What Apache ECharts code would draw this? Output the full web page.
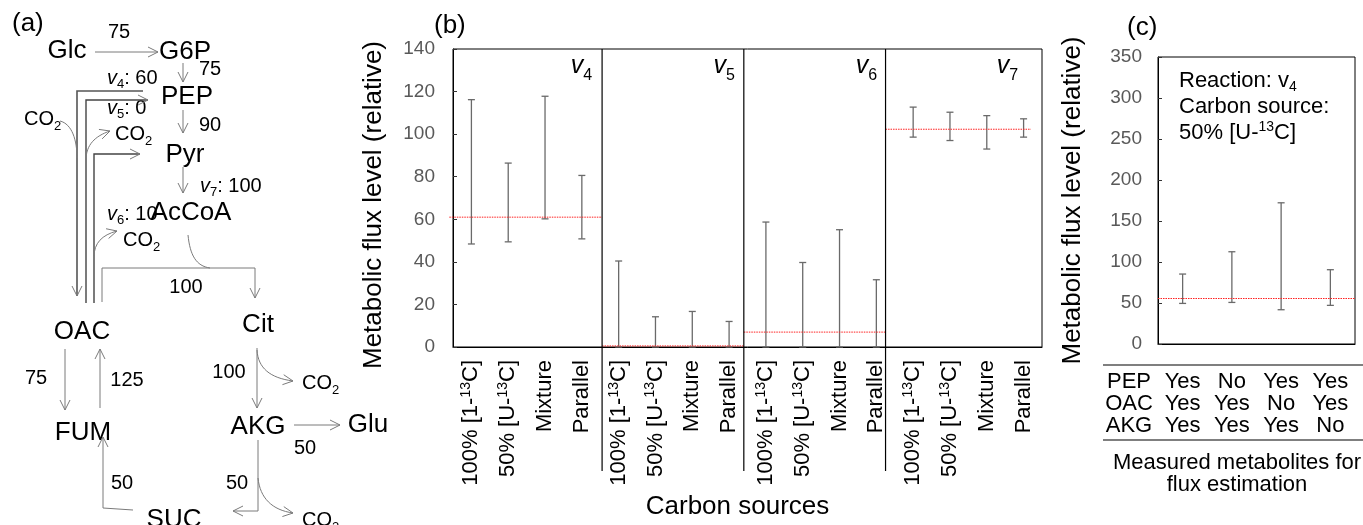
<!DOCTYPE html>
<html><head><meta charset="utf-8">
<script src="https://cdn.jsdelivr.net/npm/echarts@6/dist/echarts.min.js"></script>
<style>html,body{margin:0;padding:0;background:#fff}#c{width:1363px;height:525px}</style>
</head><body><div id="c"></div>
<script>
// ---------- DATA ----------
const sourceLabels = ['100% [1-13C]', '50% [U-13C]', 'Mixture', 'Parallel'];
const reactions = ['4', '5', '6', '7'];
const bLow  = [48.4, 49.4, 60.2, 50.8,  0, 0, 0, 0,  0, 0, 0, 0,  98.6, 97.0, 93.0, 98.6];
const bHigh = [116.2, 86.4, 117.8, 80.6,  40.4, 14.2, 16.7, 12.0,  58.7, 39.7, 55.1, 31.6,  112.7, 110.3, 108.7, 107.2];
const bTrue = [61, 0.5, 7, 102.3];
const bTicks = [0, 140, 20];
const cLow  = [49.5, 50.7, 41.8, 47.1];
const cHigh = [85.3, 112.5, 172.2, 90.6];
const cTrue = 55.6;
const cTicks = [0, 350, 50];
const cPEP = ['Yes', 'No', 'Yes', 'Yes'];
const cOAC = ['Yes', 'Yes', 'No', 'Yes'];
const cAKG = ['Yes', 'Yes', 'Yes', 'No'];
const cRowNames = ['PEP', 'OAC', 'AKG'];
const mapFluxV = ['60', '0', '10', '100'];          // v4..v7 in the map
const mapFlux = ['75', '75', '90', '100', '75', '125', '100', '50', '50', '50'];

// ---------- LAYOUT ----------
const FF = '"Liberation Sans", Arial, sans-serif';
const GR = '#7a7a7a';
const groupEdges = [-0.1, 4.05, 7.9, 11.75, 15.7];
const labelX = [3.78, 7.66, 11.52, 15.35];

const bCats = [];
reactions.forEach(() => sourceLabels.forEach(s => bCats.push(s)));
const cCols = cPEP.map((p, i) => [p, cOAC[i], cAKG[i]].join('\n'));

function errRender(params, api) {
  const x = api.value(0);
  const lo = api.coord([x, api.value(1)]), hi = api.coord([x, api.value(2)]);
  const w = 3.5, st = {stroke: '#6a6a6a', lineWidth: 1.3};
  return {type: 'group', children: [
    {type: 'line', shape: {x1: lo[0], y1: lo[1], x2: hi[0], y2: hi[1]}, style: st},
    {type: 'line', shape: {x1: lo[0] - w, y1: lo[1], x2: lo[0] + w, y2: lo[1]}, style: st},
    {type: 'line', shape: {x1: hi[0] - w, y1: hi[1], x2: hi[0] + w, y2: hi[1]}, style: st}
  ]};
}

// ---------- DIAGRAM (panel a) ----------
function seg(pts, col, lw) { return {type: 'polyline', silent: true, shape: {points: pts}, style: {stroke: col || GR, lineWidth: lw || 1, fill: 'none'}}; }
function head(tip, d) {
  const n = Math.hypot(d[0], d[1]), ux = d[0] / n, uy = d[1] / n, px = -uy, py = ux, L = 10, W = 5;
  return seg([[tip[0] - ux * L + px * W, tip[1] - uy * L + py * W], tip, [tip[0] - ux * L - px * W, tip[1] - uy * L - py * W]]);
}
function arrow(pts, col, lw) {
  const a = pts[pts.length - 2], b = pts[pts.length - 1];
  return [seg(pts, col, lw), head(b, [b[0] - a[0], b[1] - a[1]])];
}
function curve(x1, y1, c1x, c1y, c2x, c2y, x2, y2, withHead) {
  const out = [{type: 'bezierCurve', silent: true, shape: {x1, y1, cpx1: c1x, cpy1: c1y, cpx2: c2x, cpy2: c2y, x2, y2}, style: {stroke: GR, lineWidth: 1, fill: 'none'}}];
  if (withHead) out.push(head([x2, y2], [x2 - c2x, y2 - c2y]));
  return out;
}
const RICH = {
  i: {fontStyle: 'italic', fontSize: 20, fontFamily: FF, lineHeight: 26, fill: '#000', color: '#000'},
  s: {fontSize: 13, fontFamily: FF, lineHeight: 13, verticalAlign: 'bottom', fill: '#000', color: '#000'},
  sup: {fontSize: 14, fontFamily: FF, lineHeight: 14, verticalAlign: 'top', fill: '#000', color: '#000'}
};
function T(x, y, text, fs, align, lh) {
  const st = {text, fontSize: fs, fontFamily: FF, fill: '#000', align: align || 'center', verticalAlign: 'middle',
    textAlign: align || 'center', textVerticalAlign: 'middle', rich: RICH};
  if (lh) st.lineHeight = lh;
  return {type: 'text', x, y, silent: true, style: st};
}
const CO2 = 'CO{s|2}';
const diagram = [].concat(
  T(12, 24, '(a)', 26, 'left'),
  T(67, 51, 'Glc', 26), T(185, 52, 'G6P', 26), T(187, 97, 'PEP', 26), T(185, 155, 'Pyr', 26),
  T(191, 213, 'AcCoA', 26), T(82, 332, 'OAC', 26), T(258, 325, 'Cit', 26), T(83, 433, 'FUM', 26),
  T(258, 427, 'AKG', 26), T(368, 425, 'Glu', 26), T(174, 520, 'SUC', 26),
  T(119, 32, mapFlux[0], 20), T(210, 69, mapFlux[1], 20), T(210, 125, mapFlux[2], 20),
  T(186, 287, mapFlux[3], 20), T(36, 378, mapFlux[4], 20), T(127, 380, mapFlux[5], 20),
  T(229, 372, mapFlux[6], 20), T(305, 448, mapFlux[7], 20), T(122, 483, mapFlux[8], 20), T(237, 483, mapFlux[9], 20),
  T(107, 78, '{i|v}{s|4}: ' + mapFluxV[0], 20, 'left', 26),
  T(107, 108, '{i|v}{s|5}: ' + mapFluxV[1], 20, 'left', 26),
  T(107, 214, '{i|v}{s|6}: ' + mapFluxV[2], 20, 'left', 26),
  T(200, 186, '{i|v}{s|7}: ' + mapFluxV[3], 20, 'left', 26),
  T(24, 119, CO2, 20, 'left', 27), T(115, 134, CO2, 20, 'left', 27), T(123, 240, CO2, 20, 'left', 27),
  T(302, 383, CO2, 20, 'left', 27), T(302, 520, CO2, 20, 'left', 27),
  arrow([[95, 52], [158, 52]]),
  arrow([[183, 63], [183, 82]]),
  arrow([[143, 91], [77, 91], [77, 296]], '#555', 1.6),
  arrow([[86, 303], [86, 100], [148, 100]], '#444', 1.4),
  arrow([[94, 303], [94, 154], [140, 154]], '#444', 1.4),
  arrow([[102, 302], [102, 268], [255, 268], [255, 298]]),
  curve(188, 235, 190, 255, 196, 266, 210, 268, false),
  curve(60, 121, 72, 124, 77, 140, 77, 158, false),
  curve(86, 160, 86, 145, 95, 136, 110, 131, true),
  curve(94, 257, 94, 243, 102, 235, 117, 231, true),
  arrow([[183, 110], [183, 133]]),
  arrow([[183, 167], [183, 193]]),
  arrow([[65, 349], [65, 410]]),
  arrow([[100, 408], [100, 349]]),
  arrow([[257, 348], [257, 408]]),
  curve(257, 350, 258, 368, 270, 378, 293, 381, true),
  arrow([[294, 425], [340, 425]]),
  arrow([[258, 440], [258, 511], [233, 511]]),
  curve(258, 478, 260, 498, 272, 510, 293, 513, true),
  arrow([[133, 510], [103, 508], [103, 437]])
);

const extraGraphics = [
  T(434, 26, '(b)', 26, 'left'),
  T(1127, 28, '(c)', 26, 'left'),
  {type: 'text', x: 1179, y: 68, silent: true, style: {text: 'Reaction: v{s|4}\nCarbon source:\n50% [U-{sup|13}C]',
    fontSize: 22, fontFamily: FF, fill: '#000', lineHeight: 26, align: 'left', verticalAlign: 'top', textAlign: 'left', textVerticalAlign: 'top',
    rich: {s: {fontSize: 14, fontFamily: FF, lineHeight: 14, verticalAlign: 'bottom'}, sup: {fontSize: 14, fontFamily: FF, lineHeight: 14, verticalAlign: 'top'}}}},
  {type: 'text', x: 1129, y: 371, silent: true, style: {text: cRowNames.join('\n'), fontSize: 22, fontFamily: FF, fill: '#000', lineHeight: 22,
    align: 'center', verticalAlign: 'top', textAlign: 'center', textVerticalAlign: 'top'}},
  {type: 'text', x: 1237, y: 452, silent: true, style: {text: 'Measured metabolites for\nflux estimation', fontSize: 22, fontFamily: FF, fill: '#000', lineHeight: 22,
    align: 'center', verticalAlign: 'top', textAlign: 'center', textVerticalAlign: 'top'}},
  {type: 'line', silent: true, shape: {x1: 1103, y1: 365, x2: 1363, y2: 365}, style: {stroke: '#555', lineWidth: 1.5}},
  {type: 'line', silent: true, shape: {x1: 1103, y1: 440, x2: 1363, y2: 440}, style: {stroke: '#555', lineWidth: 1.5}}
];

const yLabel = {color: '#595959', fontSize: 19, fontFamily: FF};
const yName = {color: '#000', fontSize: 26, fontFamily: FF};

const option = {
  animation: false,
  grid: [
    {left: 453, top: 49, width: 589, height: 298, show: true, borderColor: '#000', borderWidth: 1},
    {left: 1158, top: 57, width: 197, height: 287, show: true, borderColor: '#000', borderWidth: 1}
  ],
  xAxis: [
    {type: 'category', gridIndex: 0, data: bCats,
      axisLine: {lineStyle: {color: '#000'}}, axisTick: {show: false},
      axisLabel: {interval: 0, rotate: 90, margin: 13, color: '#000', fontSize: 22, fontFamily: FF, lineHeight: 24,
        formatter: v => v.replace('13C', '{sup|13}C'),
        rich: {sup: {fontSize: 14, fontFamily: FF, lineHeight: 14, verticalAlign: 'top', color: '#000'}}},
      name: 'Carbon sources', nameLocation: 'middle', nameGap: 146,
      nameTextStyle: {color: '#000', fontSize: 26, fontFamily: FF, padding: [0, 20, 0, 0]}},
    {type: 'value', gridIndex: 0, min: 0, max: 16, show: false},
    {type: 'category', gridIndex: 1, data: cCols,
      axisLine: {lineStyle: {color: '#000'}}, axisTick: {show: false},
      axisLabel: {interval: 0, margin: 27, color: '#000', fontSize: 22, fontFamily: FF, lineHeight: 22}}
  ],
  yAxis: [
    {type: 'value', gridIndex: 0, min: bTicks[0], max: bTicks[1], interval: bTicks[2],
      axisLine: {show: true, lineStyle: {color: '#000'}}, axisTick: {show: true, inside: true, length: 4, lineStyle: {color: '#333'}},
      splitLine: {show: false}, axisLabel: Object.assign({margin: 18}, yLabel),
      name: 'Metabolic flux level (relative)', nameLocation: 'middle', nameGap: 66,
      nameTextStyle: Object.assign({padding: [0, 14, 0, 0]}, yName)},
    {type: 'value', gridIndex: 1, min: cTicks[0], max: cTicks[1], interval: cTicks[2],
      axisLine: {show: true, lineStyle: {color: '#000'}}, axisTick: {show: true, inside: true, length: 4, lineStyle: {color: '#333'}},
      splitLine: {show: false}, axisLabel: Object.assign({margin: 16}, yLabel),
      name: 'Metabolic flux level (relative)', nameLocation: 'middle', nameGap: 72, nameTextStyle: yName}
  ],
  series: [
    {type: 'custom', xAxisIndex: 0, yAxisIndex: 0, silent: true, encode: {x: 0, y: [1, 2]},
      data: bLow.map((l, i) => [i, l, bHigh[i]]), renderItem: errRender},
    {type: 'custom', xAxisIndex: 1, yAxisIndex: 0, silent: true, clip: false, encode: {x: [0, 1], y: 2},
      data: bTrue.map((v, i) => [groupEdges[i], groupEdges[i + 1], v]),
      renderItem: (p, api) => {
        const a = api.coord([api.value(0), api.value(2)]), b = api.coord([api.value(1), api.value(2)]);
        return {type: 'line', shape: {x1: a[0], y1: a[1], x2: b[0], y2: b[1]}, style: {stroke: '#ff2020', lineWidth: 1, lineDash: [1.5, 1]}};
      }},
    {type: 'custom', xAxisIndex: 1, yAxisIndex: 0, silent: true, clip: false, encode: {x: 0, y: 1},
      data: groupEdges.slice(1, 4).map(x => [x, bTicks[1]]),
      renderItem: (p, api) => {
        const t = api.coord([api.value(0), api.value(1)]), b = api.coord([api.value(0), 0]);
        return {type: 'line', shape: {x1: t[0], y1: t[1], x2: b[0], y2: b[1] + 124}, style: {stroke: '#000', lineWidth: 1.2}};
      }},
    {type: 'custom', xAxisIndex: 1, yAxisIndex: 0, silent: true, clip: false, encode: {x: 0, y: 1},
      data: reactions.map((r, i) => [labelX[i], bTicks[1], r]),
      renderItem: (p, api) => {
        const t = api.coord([api.value(0), api.value(1)]);
        return {type: 'text', x: t[0], y: t[1] - 0.5, style: {text: '{v|v}{s|' + reactions[p.dataIndex] + '}',
          align: 'right', verticalAlign: 'top', fill: '#000',
          rich: {v: {fontSize: 25, fontStyle: 'italic', fontFamily: FF, lineHeight: 35, fill: '#000'},
                 s: {fontSize: 16, fontFamily: FF, lineHeight: 16, verticalAlign: 'bottom', fill: '#000'}}}};
      }},
    {type: 'custom', xAxisIndex: 2, yAxisIndex: 1, silent: true, encode: {x: 0, y: [1, 2]},
      data: cLow.map((l, i) => [i, l, cHigh[i]]), renderItem: errRender,
      markLine: {silent: true, symbol: 'none', label: {show: false},
        lineStyle: {color: '#ff2020', width: 1, type: [1.5, 1]}, data: [{yAxis: cTrue}]}}
  ],
  graphic: diagram.concat(extraGraphics)
};

const chart = echarts.init(document.getElementById('c'), null, {renderer: 'canvas'});
chart.setOption(option);
</script>
</body></html>
